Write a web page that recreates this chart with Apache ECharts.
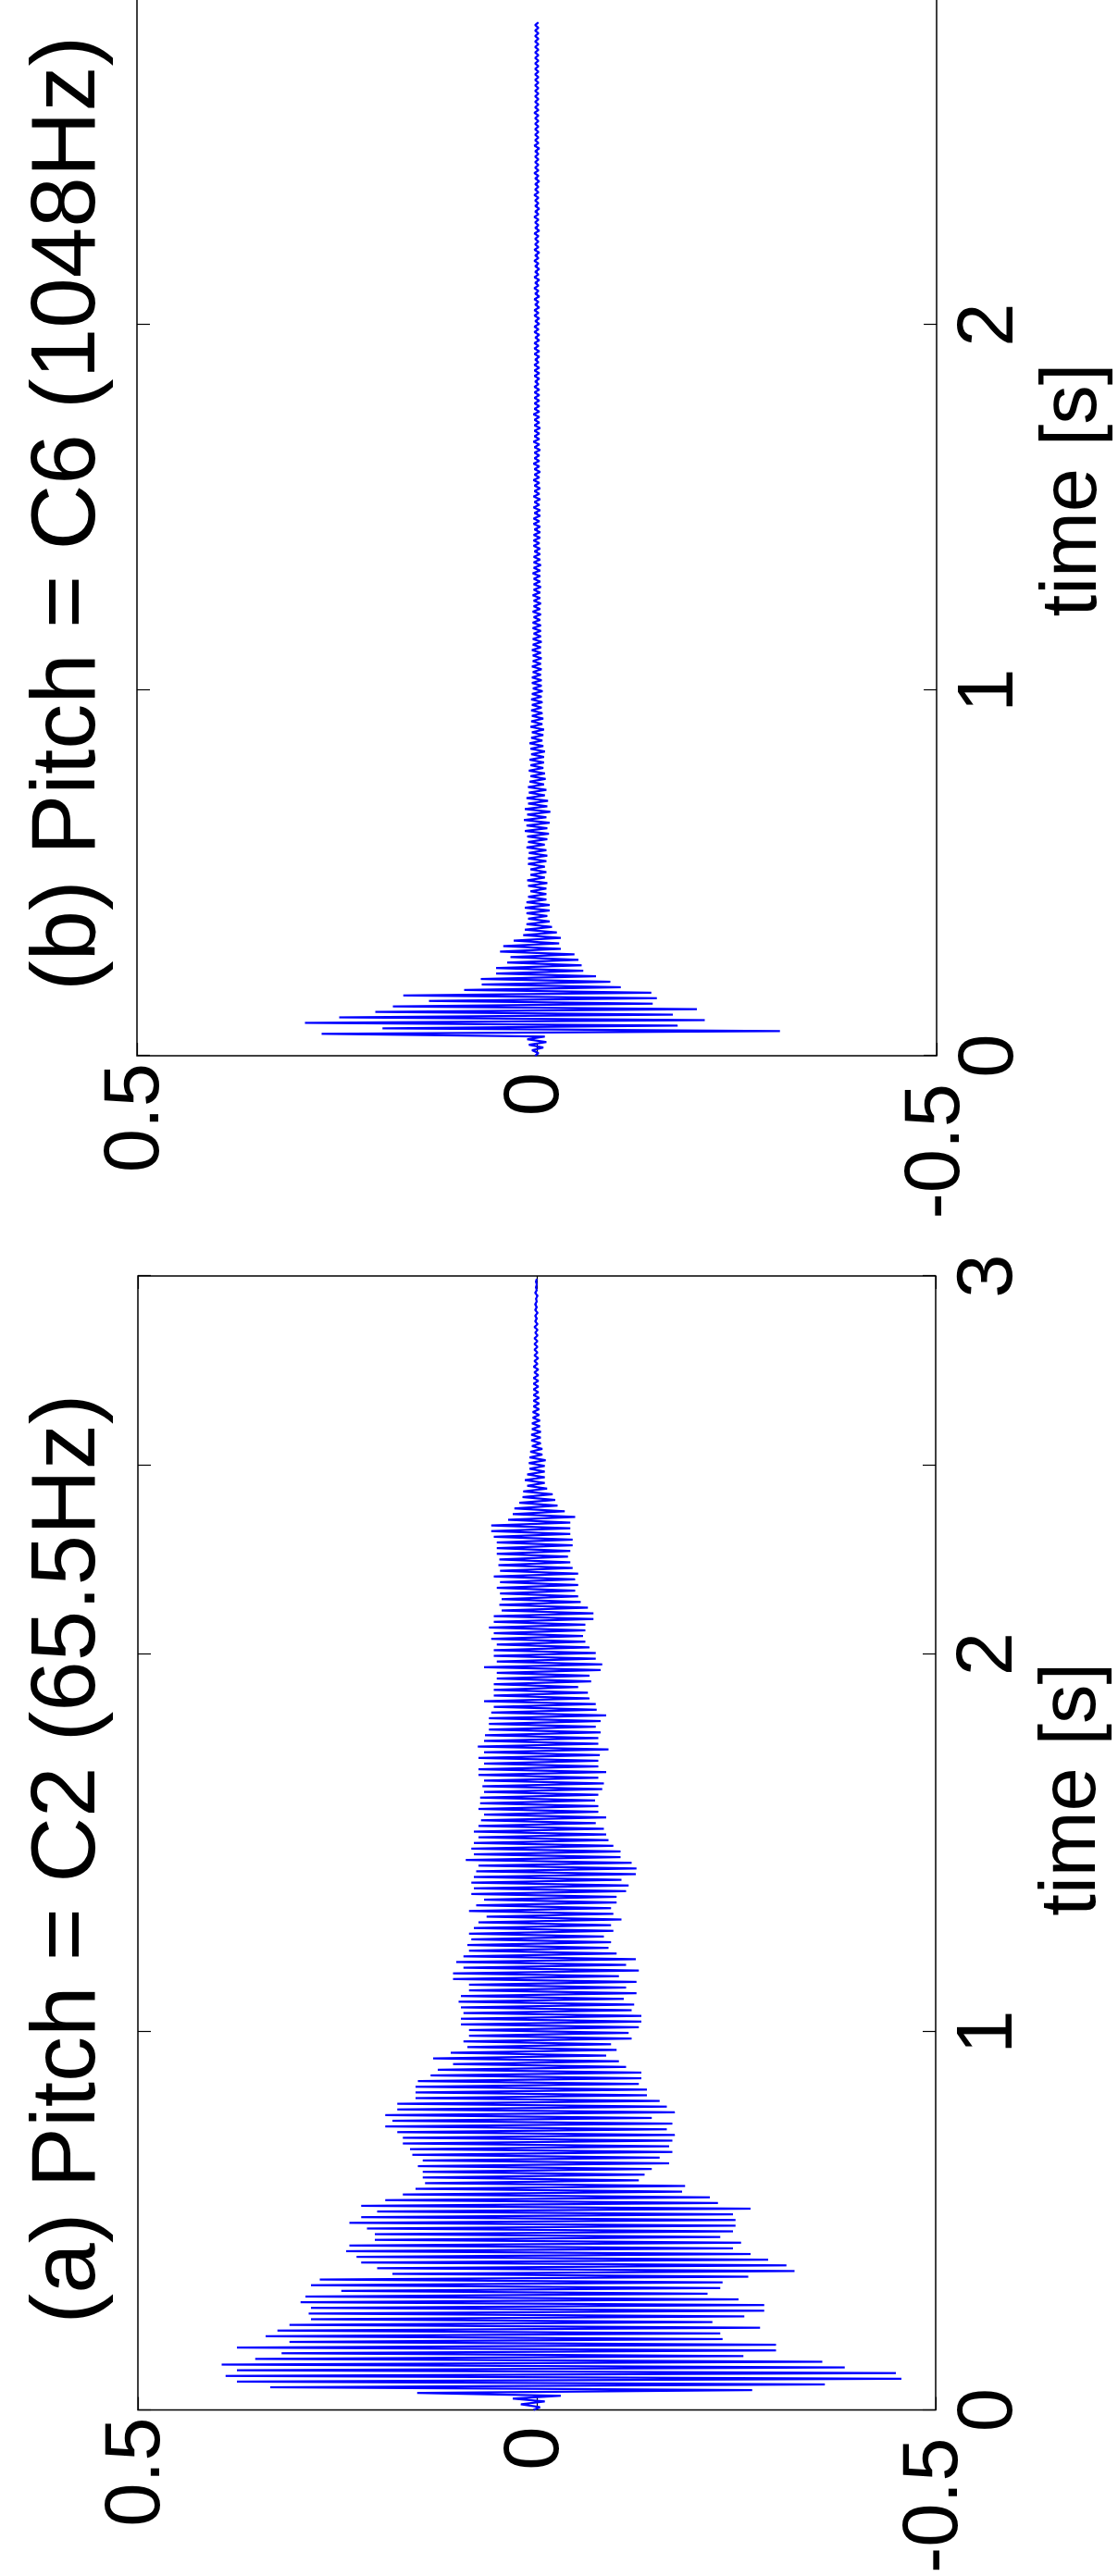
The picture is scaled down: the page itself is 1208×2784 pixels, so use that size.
<!DOCTYPE html>
<html>
<head>
<meta charset="utf-8">
<title>Pitch C2 / C6 waveforms</title>
<script src="https://cdn.jsdelivr.net/npm/echarts@6/dist/echarts.min.js"></script>
<style>
  html, body { margin: 0; padding: 0; background: #fff; }
  body { width: 1208px; height: 2784px; overflow: hidden; position: relative; }
  /* the figure is laid out landscape, then turned a quarter turn counter-clockwise */
  #chart {
    position: absolute; left: 0; top: 0;
    width: 2900px; height: 1208px;
    transform-origin: 0 0;
    transform: translate(0, 2784px) rotate(-90deg);
  }
</style>
</head>
<body>
<div id="chart"></div>
<script>
// sample spacing of the peak readings (s)
const STEP = 0.015;

// (a) C2: positive / negative peaks read every 0.015 s from t = 0
const upA = [
  0.004, 0.02, 0.03, 0.15, 0.334, 0.376, 0.39, 0.376, 0.395, 0.353,
  0.32, 0.376, 0.31, 0.34, 0.325, 0.31, 0.283, 0.286, 0.283, 0.296,
  0.29, 0.245, 0.283, 0.272, 0.181, 0.20, 0.22, 0.226, 0.239, 0.235,
  0.203, 0.203, 0.213, 0.235, 0.22, 0.2, 0.22, 0.19, 0.168, 0.152,
  0.14, 0.143, 0.143, 0.149, 0.143, 0.156, 0.159, 0.168, 0.168, 0.175,
  0.19, 0.181, 0.19, 0.175, 0.175, 0.152, 0.152, 0.152, 0.149, 0.133,
  0.124, 0.105, 0.13, 0.108, 0.087, 0.092, 0.085, 0.085, 0.095, 0.095,
  0.092, 0.095, 0.098, 0.095, 0.085, 0.085, 0.105, 0.105, 0.092, 0.101,
  0.092, 0.085, 0.087, 0.082, 0.085, 0.079, 0.073, 0.063, 0.085, 0.076,
  0.066, 0.082, 0.079, 0.082, 0.079, 0.076, 0.073, 0.089, 0.079, 0.082,
  0.079, 0.073, 0.079, 0.073, 0.07, 0.066, 0.073, 0.071, 0.071, 0.066,
  0.068, 0.066, 0.073, 0.073, 0.066, 0.073, 0.066, 0.074, 0.066, 0.065,
  0.06, 0.06, 0.06, 0.057, 0.054, 0.066, 0.054, 0.054, 0.054, 0.05,
  0.05, 0.066, 0.05, 0.054, 0.054, 0.05, 0.057, 0.054, 0.06, 0.054,
  0.054, 0.044, 0.047, 0.044, 0.046, 0.05, 0.046, 0.054, 0.046, 0.048,
  0.047, 0.05, 0.05, 0.05, 0.054, 0.057, 0.057, 0.036, 0.03, 0.028,
  0.022, 0.018, 0.017, 0.012, 0.015, 0.012, 0.009, 0.01, 0.009, 0.008,
  0.006, 0.007, 0.007, 0.006, 0.006, 0.005, 0.005, 0.004, 0.004, 0.004,
  0.004, 0.004, 0.004, 0.003, 0.004, 0.003, 0.003, 0.003, 0.003, 0.003,
  0.002, 0.003, 0.002, 0.002, 0.002, 0.002, 0.001, 0.002, 0.001, 0.001
];
const loA = [
  -0.004, -0.01, -0.03, -0.27, -0.361, -0.457, -0.45, -0.386, -0.358, -0.259,
  -0.30, -0.30, -0.233, -0.23, -0.28, -0.22, -0.26, -0.285, -0.285, -0.253,
  -0.214, -0.23, -0.233, -0.265, -0.323, -0.313, -0.29, -0.268, -0.246, -0.256,
  -0.23, -0.246, -0.249, -0.249, -0.246, -0.268, -0.227, -0.217, -0.182, -0.186,
  -0.128, -0.135, -0.144, -0.166, -0.154, -0.17, -0.166, -0.17, -0.173, -0.163,
  -0.17, -0.144, -0.173, -0.163, -0.154, -0.138, -0.138, -0.128, -0.131, -0.131,
  -0.112, -0.103, -0.087, -0.1, -0.093, -0.119, -0.115, -0.128, -0.131, -0.131,
  -0.119, -0.122, -0.109, -0.125, -0.112, -0.125, -0.103, -0.128, -0.112, -0.124,
  -0.1, -0.09, -0.093, -0.084, -0.096, -0.093, -0.106, -0.096, -0.093, -0.1,
  -0.1, -0.112, -0.115, -0.106, -0.124, -0.125, -0.119, -0.105, -0.105, -0.096,
  -0.09, -0.087, -0.084, -0.074, -0.087, -0.077, -0.077, -0.073, -0.077, -0.082,
  -0.084, -0.077, -0.087, -0.077, -0.077, -0.079, -0.09, -0.077, -0.077, -0.08,
  -0.074, -0.08, -0.087, -0.075, -0.074, -0.066, -0.064, -0.052, -0.068, -0.066,
  -0.08, -0.082, -0.074, -0.074, -0.066, -0.061, -0.058, -0.061, -0.061, -0.071,
  -0.071, -0.064, -0.055, -0.052, -0.048, -0.052, -0.048, -0.052, -0.045, -0.042,
  -0.039, -0.042, -0.045, -0.045, -0.042, -0.042, -0.042, -0.048, -0.035, -0.026,
  -0.023, -0.02, -0.013, -0.01, -0.01, -0.01, -0.01, -0.011, -0.007, -0.007,
  -0.005, -0.005, -0.005, -0.004, -0.004, -0.003, -0.003, -0.003, -0.003, -0.002,
  -0.002, -0.002, -0.002, -0.002, -0.001, -0.002, -0.001, -0.001, -0.001, -0.001,
  -0.001, -0.001, 0, -0.001, 0, 0, -0.001, 0, 0, 0
];

// (b) C6: same reading grid, up to about 2.83 s
const upB = [
  0.002, 0.006, 0.01, 0.012, 0.269, 0.193, 0.29, 0.247, 0.202, 0.18,
  0.135, 0.167, 0.091, 0.069, 0.07, 0.051, 0.051, 0.037, 0.033, 0.046,
  0.042, 0.029, 0.017, 0.015, 0.013, 0.011, 0.013, 0.015, 0.013, 0.011,
  0.008, 0.011, 0.012, 0.008, 0.008, 0.011, 0.011, 0.01, 0.013, 0.011,
  0.012, 0.015, 0.013, 0.016, 0.012, 0.015, 0.011, 0.013, 0.01, 0.011,
  0.009, 0.008, 0.01, 0.008, 0.009, 0.007, 0.008, 0.009, 0.007, 0.006,
  0.008, 0.007, 0.006, 0.007, 0.006, 0.007, 0.006, 0.005, 0.006, 0.006,
  0.005, 0.006, 0.005, 0.005, 0.006, 0.005, 0.005, 0.004, 0.005, 0.005,
  0.004, 0.005, 0.004, 0.004, 0.005, 0.004, 0.004, 0.004, 0.005, 0.004,
  0.004, 0.004, 0.003, 0.004, 0.004, 0.004, 0.003, 0.004, 0.004, 0.003,
  0.004, 0.003, 0.004, 0.003, 0.003, 0.004, 0.003, 0.003, 0.004, 0.003,
  0.003, 0.003, 0.004, 0.003, 0.003, 0.003, 0.003, 0.004, 0.003, 0.003,
  0.003, 0.003, 0.003, 0.002, 0.003, 0.003, 0.003, 0.002, 0.003, 0.003,
  0.003, 0.002, 0.003, 0.003, 0.002, 0.003, 0.003, 0.002, 0.003, 0.002,
  0.003, 0.002, 0.003, 0.002, 0.002, 0.003, 0.002, 0.003, 0.002, 0.002,
  0.003, 0.002, 0.002, 0.003, 0.002, 0.002, 0.002, 0.003, 0.002, 0.002,
  0.002, 0.003, 0.002, 0.002, 0.002, 0.002, 0.003, 0.002, 0.002, 0.002,
  0.002, 0.002, 0.003, 0.002, 0.002, 0.002, 0.002, 0.002, 0.002, 0.002,
  0.002, 0.002, 0.002, 0.002, 0.002, 0.002, 0.002, 0.002, 0.002
];
const loB = [
  -0.002, -0.008, -0.012, -0.01, -0.304, -0.176, -0.21, -0.17, -0.2, -0.145,
  -0.15, -0.143, -0.105, -0.092, -0.074, -0.058, -0.056, -0.052, -0.047, -0.03,
  -0.028, -0.03, -0.025, -0.019, -0.016, -0.013, -0.016, -0.016, -0.012, -0.012,
  -0.012, -0.013, -0.01, -0.012, -0.01, -0.012, -0.013, -0.012, -0.01, -0.013,
  -0.015, -0.013, -0.016, -0.012, -0.017, -0.013, -0.014, -0.01, -0.012, -0.009,
  -0.011, -0.01, -0.008, -0.009, -0.009, -0.01, -0.008, -0.007, -0.008, -0.009,
  -0.007, -0.008, -0.007, -0.006, -0.007, -0.006, -0.007, -0.006, -0.006, -0.005,
  -0.006, -0.005, -0.006, -0.005, -0.005, -0.006, -0.005, -0.005, -0.005, -0.004,
  -0.005, -0.004, -0.005, -0.004, -0.004, -0.005, -0.004, -0.004, -0.004, -0.005,
  -0.004, -0.004, -0.004, -0.003, -0.004, -0.004, -0.004, -0.003, -0.004, -0.004,
  -0.003, -0.004, -0.003, -0.004, -0.003, -0.003, -0.004, -0.003, -0.003, -0.003,
  -0.004, -0.003, -0.003, -0.003, -0.004, -0.003, -0.003, -0.003, -0.003, -0.003,
  -0.003, -0.003, -0.002, -0.003, -0.003, -0.003, -0.002, -0.003, -0.003, -0.002,
  -0.003, -0.003, -0.002, -0.003, -0.003, -0.002, -0.003, -0.002, -0.003, -0.002,
  -0.002, -0.003, -0.002, -0.003, -0.002, -0.002, -0.003, -0.002, -0.002, -0.002,
  -0.003, -0.002, -0.002, -0.002, -0.003, -0.002, -0.002, -0.002, -0.002, -0.003,
  -0.002, -0.002, -0.002, -0.002, -0.002, -0.003, -0.002, -0.002, -0.002, -0.002,
  -0.002, -0.002, -0.002, -0.002, -0.002, -0.002, -0.002, -0.002, -0.002, -0.002,
  -0.002, -0.002, -0.002, -0.002, -0.002, -0.002, -0.002, -0.002, -0.002
];

// axis ticks and labels
const tickTimesA = [0, 1, 2, 2.5, 3];
const tickTimesB = [0, 1, 2, 3];
const labelTimes = [0, 1, 2, 3];
const titles = ['(a) Pitch = C2 (65.5Hz)', '(b) Pitch = C6 (1048Hz)'];

const FONT = '"Liberation Sans", Arial, Helvetica, sans-serif';
const LABEL_SIZE = 85;

// each reading pair becomes one up-stroke and one down-stroke
function toTrace(up, lo) {
  const pts = [];
  for (let i = 0; i < up.length; i++) {
    pts.push([i * STEP, up[i]]);
    pts.push([i * STEP + STEP / 2, lo[i]]);
  }
  return pts;
}

function timeAxis(grid, ticks, pos, namePad) {
  const ax = {
    gridIndex: grid, type: 'value', min: 0, max: 3, position: pos,
    axisLine: { show: false, onZero: false },
    splitLine: { show: false },
    axisTick: { inside: true, length: 14, customValues: ticks, lineStyle: { color: '#000', width: 1.2 } },
    axisLabel: { show: pos === 'bottom', customValues: labelTimes, margin: 16, color: '#000', fontSize: LABEL_SIZE, fontFamily: FONT }
  };
  if (pos === 'bottom') {
    ax.name = 'time [s]';
    ax.nameLocation = 'middle';
    ax.nameGap = 95;
    ax.nameTextStyle = { color: '#000', fontSize: LABEL_SIZE, fontFamily: FONT, padding: [0, 0, 0, namePad] };
  }
  return ax;
}

const richBase = { fontSize: LABEL_SIZE, fontFamily: FONT, color: '#000' };
function ampAxis(grid, pos) {
  return {
    gridIndex: grid, type: 'value', min: -0.5, max: 0.5, interval: 0.5, position: pos,
    axisLine: { show: false, onZero: false },
    splitLine: { show: false },
    axisTick: { inside: true, length: 14, lineStyle: { color: '#000', width: 1.2 } },
    axisLabel: {
      show: pos === 'left', margin: 8,
      formatter: v => v === 0 ? '{z|0}' : (v < 0 ? '{n|' + v + '}' : '{p|' + v + '}'),
      rich: {
        p: richBase,
        z: Object.assign({ padding: [0, 10, 0, 0] }, richBase),
        n: Object.assign({ padding: [0, 22, 0, 0] }, richBase)
      }
    }
  };
}

const chart = echarts.init(document.getElementById('chart'), null, { renderer: 'canvas' });

chart.setOption({
  animation: false,
  backgroundColor: '#fff',
  grid: [
    { left: 167, top: 149, width: 1238, height: 862, show: true, borderColor: '#000', borderWidth: 1.5, backgroundColor: 'transparent' },
    { left: 1643, top: 148, width: 1185, height: 874, show: true, borderColor: '#000', borderWidth: 1.5, backgroundColor: 'transparent' }
  ],
  xAxis: [
    timeAxis(0, tickTimesA, 'bottom', 116),
    timeAxis(0, tickTimesA, 'top'),
    timeAxis(1, tickTimesB, 'bottom', 38),
    timeAxis(1, tickTimesB, 'top')
  ],
  yAxis: [
    ampAxis(0, 'left'),
    ampAxis(0, 'right'),
    ampAxis(1, 'left'),
    ampAxis(1, 'right')
  ],
  graphic: [
    { type: 'text', x: 775, y: 26, silent: true,
      style: { text: titles[0], fontSize: 98, fontFamily: FONT, fill: '#000', align: 'center', verticalAlign: 'top' } },
    { type: 'text', x: 2229, y: 26, silent: true,
      style: { text: titles[1], fontSize: 98, fontFamily: FONT, fill: '#000', align: 'center', verticalAlign: 'top' } }
  ],
  series: [
    {
      type: 'line', xAxisIndex: 0, yAxisIndex: 0,
      data: toTrace(upA, loA),
      symbol: 'none', silent: true,
      lineStyle: { color: '#0000ff', width: 2.2 }
    },
    {
      type: 'line', xAxisIndex: 2, yAxisIndex: 2,
      data: toTrace(upB, loB),
      symbol: 'none', silent: true,
      lineStyle: { color: '#0000ff', width: 2.2 }
    }
  ]
});
</script>
</body>
</html>
